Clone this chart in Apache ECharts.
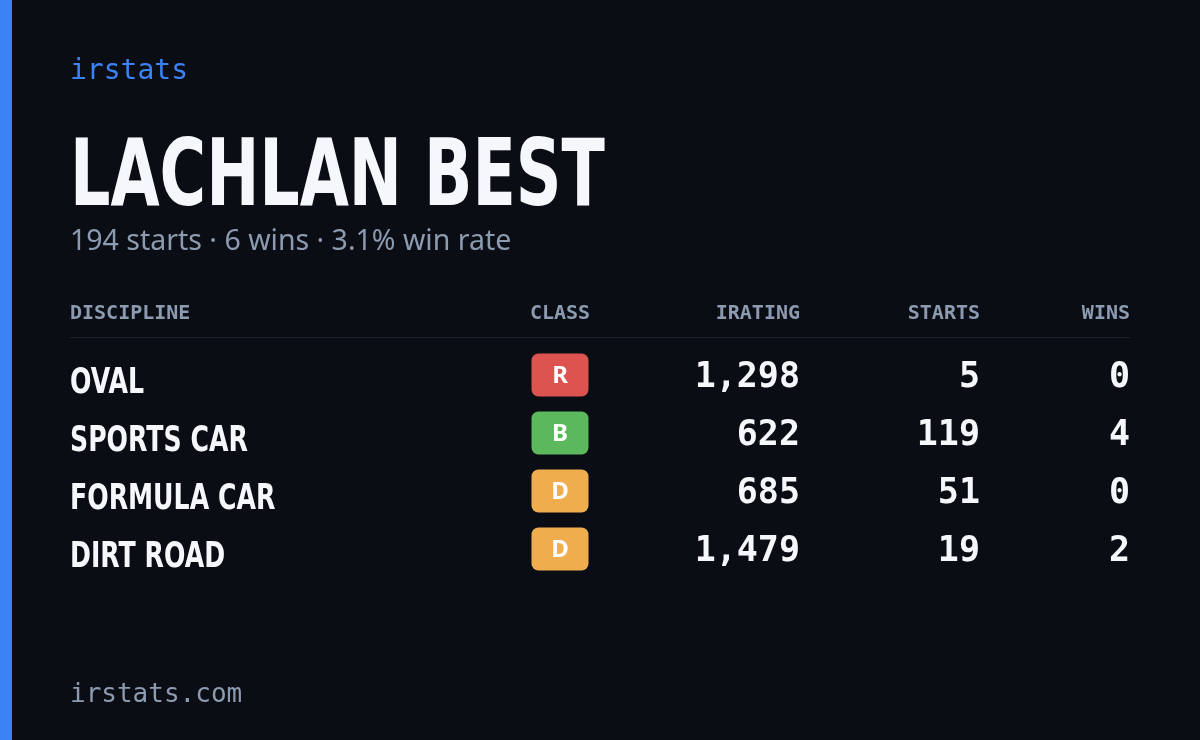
<!DOCTYPE html>
<html><head><meta charset="utf-8">
<style>html,body{margin:0;padding:0;background:#0a0d14}#c{width:1200px;height:740px}</style>
<script src="https://cdn.jsdelivr.net/npm/echarts@6/dist/echarts.min.js"></script>
</head><body><div id="c"></div>
<script>
var disciplines = ['OVAL', 'SPORTS CAR', 'FORMULA CAR', 'DIRT ROAD'];
var classes = ['R', 'B', 'D', 'D'];
var iratings = [1298, 622, 685, 1479];
var starts = [5, 119, 51, 19];
var wins = [0, 4, 0, 2];
var headers = ['DISCIPLINE', 'CLASS', 'IRATING', 'STARTS', 'WINS'];
var classColors = { R: '#dc5350', B: '#5cb85c', D: '#f0ad4e' };

var mono = '"DejaVu Sans Mono", monospace';
var cond = '"DejaVu Sans", sans-serif';
var colX = { name: 70, cls: 560, ir: 800, st: 980, wn: 1130 };
var hdr = '600 20px ' + mono;

var myChart = echarts.init(document.getElementById('c'));

var rows = disciplines.map(function (d, i) { return [0, i]; });

var option = {
  backgroundColor: '#0a0d14',
  grid: { left: 0, right: 0, top: 346, height: 232 },
  xAxis: { type: 'value', min: 0, max: 1200, show: false },
  yAxis: { type: 'category', data: disciplines, inverse: true, show: false },
  graphic: [
    { type: 'rect', shape: { x: 0, y: 0, width: 12, height: 740 }, style: { fill: '#3b82f6' } },
    { type: 'text', left: 70, top: 58, style: { text: 'irstats', fill: '#3b82f6', font: '500 28px ' + mono } },
    { type: 'text', x: 70, y: 181, scaleX: 0.69, style: { text: 'LACHLAN BEST', fill: '#f5f7fb', font: 'bold 92px ' + cond, verticalAlign: 'middle' } },
    { type: 'text', left: 70, top: 227, style: { text: '194 starts · 6 wins · 3.1% win rate', fill: '#8d9bb0', font: '28.5px "Noto Sans", sans-serif' } },
    { type: 'line', shape: { x1: 70, y1: 337.5, x2: 1130, y2: 337.5 }, style: { stroke: '#1c2230', lineWidth: 1 } },
    { type: 'text', x: colX.name, y: 314, style: { text: headers[0], fill: '#8d9bb0', font: hdr, verticalAlign: 'middle' } },
    { type: 'text', x: colX.cls, y: 314, style: { text: headers[1], fill: '#8d9bb0', font: hdr, align: 'center', verticalAlign: 'middle' } },
    { type: 'text', x: colX.ir, y: 314, style: { text: headers[2], fill: '#8d9bb0', font: hdr, align: 'right', verticalAlign: 'middle' } },
    { type: 'text', x: colX.st, y: 314, style: { text: headers[3], fill: '#8d9bb0', font: hdr, align: 'right', verticalAlign: 'middle' } },
    { type: 'text', x: colX.wn, y: 314, style: { text: headers[4], fill: '#8d9bb0', font: hdr, align: 'right', verticalAlign: 'middle' } },
    { type: 'text', left: 70, top: 682, style: { text: 'irstats.com', fill: '#8d9bb0', font: '500 26px ' + mono } }
  ],
  series: [{
    type: 'custom',
    data: rows,
    renderItem: function (params, api) {
      var i = api.value(1);
      var cy = api.coord([0, i])[1];
      var c = classes[i];
      var numStyle = { fill: '#f5f7fb', font: '600 35px ' + mono, align: 'right', verticalAlign: 'middle' };
      return {
        type: 'group',
        children: [
          { type: 'text', x: colX.name, y: cy + 9, scaleX: 0.7, style: { x: 0, y: 0, text: disciplines[i], fill: '#f5f7fb', font: 'bold 36px ' + cond, verticalAlign: 'middle' } },
          { type: 'rect', shape: { x: colX.cls - 28.5, y: cy - 21.5, width: 57, height: 43, r: 7 }, style: { fill: classColors[c] } },
          { type: 'text', style: { x: colX.cls, y: cy + 1, text: c, fill: '#ffffff', font: 'bold 24px "Noto Sans", sans-serif', align: 'center', verticalAlign: 'middle' } },
          { type: 'text', style: Object.assign({ x: colX.ir, y: cy + 3, text: iratings[i].toLocaleString('en-US') }, numStyle) },
          { type: 'text', style: Object.assign({ x: colX.st, y: cy + 3, text: String(starts[i]) }, numStyle) },
          { type: 'text', style: Object.assign({ x: colX.wn, y: cy + 3, text: String(wins[i]) }, numStyle) }
        ]
      };
    }
  }]
};
myChart.setOption(option);
</script></body></html>
